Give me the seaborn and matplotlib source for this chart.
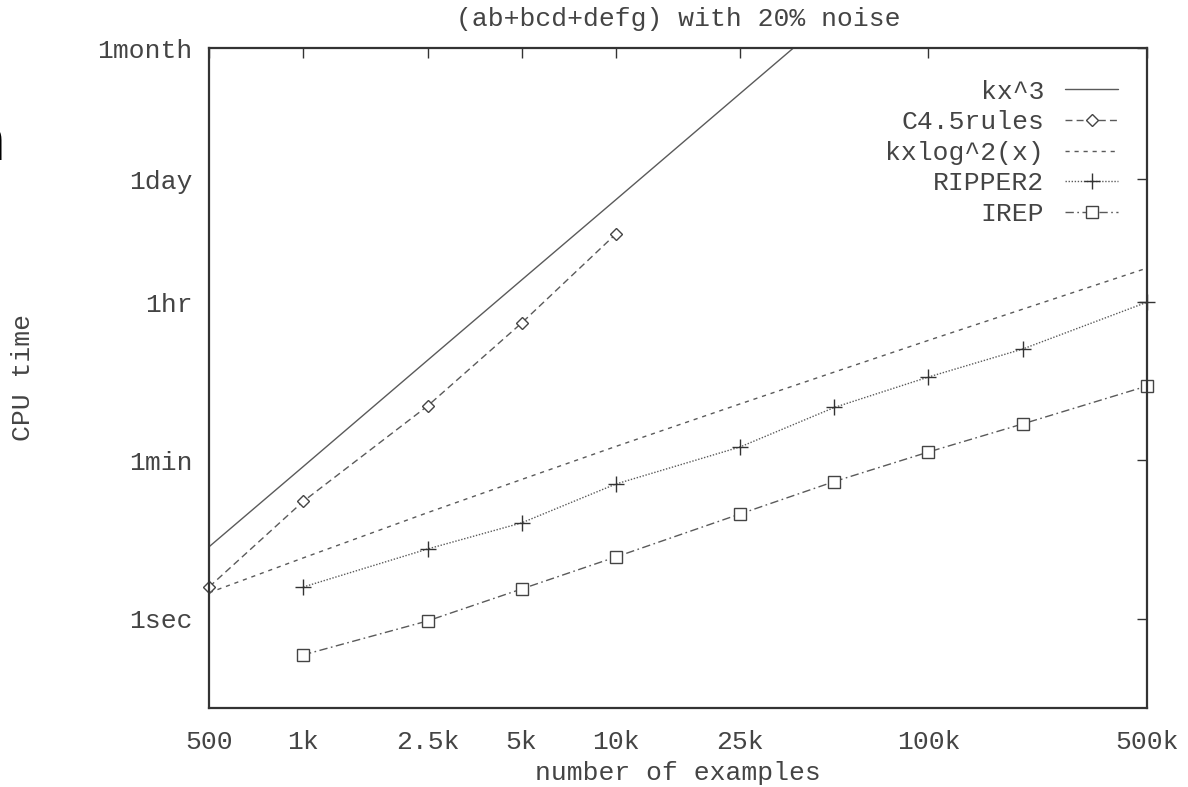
import matplotlib
matplotlib.use("Agg")
import matplotlib.pyplot as plt
import seaborn as sns
import pandas as pd
from matplotlib.ticker import FixedLocator, FixedFormatter, NullLocator

# ---------------- data ----------------
x_ticks = [500, 1000, 2500, 5000, 10000, 25000, 100000, 500000]
x_tick_labels = ["500", "1k", "2.5k", "5k", "10k", "25k", "100k", "500k"]
y_ticks = [1, 60, 3600, 86400, 2592000]
y_tick_labels = ["1sec", "1min", "1hr", "1day", "1month"]

cubic_x = [500, 1000, 2500, 5000, 10000, 25000, 50000]
cubic_t = [6.4, 51, 800, 6400, 51000, 800000, 6400000]

c45_x = [500, 1000, 2500, 5000, 10000]
c45_t = [2.26, 20.7, 245, 2100, 21000]

nlog_x = [500, 1000, 2500, 5000, 10000, 25000, 50000, 100000, 200000, 500000]
nlog_t = [1.95, 4.8, 15.5, 36.6, 86, 259, 590, 1340, 3000, 8700]

ripper_x = [1000, 2500, 5000, 10000, 25000, 50000, 100000, 200000, 500000]
ripper_t = [2.26, 6.05, 11.9, 32.5, 85, 236, 519, 1070, 3600]

irep_x = [1000, 2500, 5000, 10000, 25000, 50000, 100000, 200000, 500000]
irep_t = [0.39, 0.94, 2.15, 4.92, 15.0, 34.7, 74.5, 154, 411]

# ---------------- styling ----------------
sns.set_theme(style="white")
plt.rcParams["font.family"] = ["Liberation Mono", "DejaVu Sans Mono"]
FS = 19
TXT = "#444444"
LINE = "#5a5a5a"

fig = plt.figure(figsize=(11.88, 7.87), dpi=100)
ax = fig.add_axes([209 / 1188, 1 - 707.5 / 787, 938 / 1188, 659.5 / 787])
ax.set_xscale("log")
ax.set_yscale("log")

series = [
    ("kx^3", cubic_x, cubic_t, dict(linestyle="-", marker=None), True),
    ("C4.5rules", c45_x, c45_t,
     dict(linestyle=(0, (5, 3)), marker="D", markersize=6.5,
          markerfacecolor="white", markeredgecolor="#444444", markeredgewidth=1.0), False),
    ("kxlog^2(x)", nlog_x, nlog_t, dict(linestyle=(0, (3, 3.5))), True),
    ("RIPPER2", ripper_x, ripper_t,
     dict(linestyle=(0, (1, 1.2)), marker="+", markersize=11,
          markeredgecolor="#333333", markeredgewidth=1.0), False),
    ("IREP", irep_x, irep_t,
     dict(linestyle=(0, (6, 2.5, 1.2, 2.5)), marker="s", markersize=8,
          markerfacecolor="white", markeredgecolor="#444444", markeredgewidth=1.0), False),
]

for name, xs, ts, kw, clip in series:
    df = pd.DataFrame({"n": xs, "t": ts})
    sns.lineplot(data=df, x="n", y="t", ax=ax, color=LINE, linewidth=1.0,
                 label=name, clip_on=clip, **kw)

ax.set_xlim(500, 500000)
ax.set_ylim(0.1, 2592000)

ax.xaxis.set_major_locator(FixedLocator(x_ticks))
ax.xaxis.set_major_formatter(FixedFormatter(x_tick_labels))
ax.xaxis.set_minor_locator(NullLocator())
ax.yaxis.set_major_locator(FixedLocator(y_ticks))
ax.yaxis.set_major_formatter(FixedFormatter(y_tick_labels))
ax.yaxis.set_minor_locator(NullLocator())

ax.tick_params(axis="both", which="major", direction="in", length=7.5, width=1.0,
               color="#333333", top=True, right=True, labelsize=FS, labelcolor=TXT)
ax.tick_params(axis="x", pad=16)
ax.tick_params(axis="y", pad=12)

for sp in ax.spines.values():
    sp.set_linewidth(1.6)
    sp.set_color("#333333")

ax.set_xlabel("number of examples", fontsize=FS, color=TXT, labelpad=5)
ax.set_ylabel("CPU time", fontsize=FS, color=TXT, labelpad=45)
ax.set_title("(ab+bcd+defg) with 20% noise", fontsize=FS, color=TXT, pad=16)

leg = ax.legend(loc="upper right", bbox_to_anchor=(0.969, 0.952), frameon=False,
                markerfirst=False, fontsize=FS, handlelength=2.0,
                handletextpad=0.8, labelspacing=0.25, borderpad=0, borderaxespad=0)
for t in leg.get_texts():
    t.set_color(TXT)

# cropped glyph at the far left edge of the reference image
fig.text(6 / 1188, 1 - 160 / 787, "n", fontsize=44, fontweight="normal",
         family="DejaVu Sans", color="black", ha="right", va="baseline")

fig.savefig("out.png", dpi=100)
